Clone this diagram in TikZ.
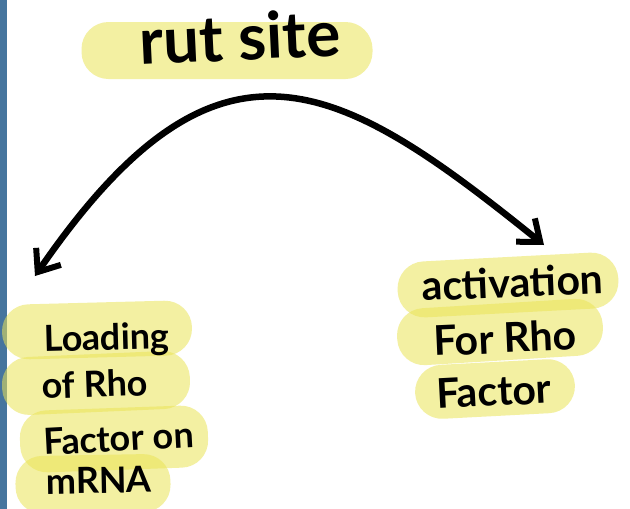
\documentclass[tikz,border=0pt]{standalone}
\usepackage{fontspec}
\setmainfont{Lato}
\usetikzlibrary{arrows.meta}
\definecolor{barblue}{RGB}{70,117,158}
\definecolor{marker}{RGB}{234,228,86}
\tikzset{
  hl/.style={fill=marker, fill opacity=0.55, draw=none, rounded corners=27pt,
    inner sep=0pt},
  handL/.style={anchor=base west, inner sep=0pt, font=\bfseries\fontsize{36}{40}\selectfont},
  handR/.style={anchor=base west, inner sep=0pt, font=\bfseries\fontsize{41}{45}\selectfont},
  title/.style={anchor=base west, inner sep=0pt, font=\bfseries\fontsize{64}{68}\selectfont},
  link/.style={line width=6.5pt, line cap=round,
    {Straight Barb[length=19pt,width=30pt,line width=6pt]}-{Straight Barb[length=19pt,width=30pt,line width=6pt]}}
}
\begin{document}
\begin{tikzpicture}[x=1pt,y=1pt]
  \useasboundingbox (0,0) rectangle (630,-509);
  \fill[white] (0,0) rectangle (630,-509);
  % margin bar
  \fill[barblue] (0,0) rectangle (7,-509);

  % marker strokes
  \node[hl, minimum width=291pt, minimum height=57pt] (hlrut) at (227,-50.5) {};
  \node[hl, minimum width=190pt, minimum height=55pt, rotate=1.5] (hlA) at (97,-330) {};
  \node[hl, minimum width=188pt, minimum height=58pt, rotate=2.5] (hlB) at (96,-383) {};
  \node[hl, minimum width=188pt, minimum height=62pt, rotate=2] (hlC) at (114,-439) {};
  \node[hl, minimum width=155pt, minimum height=58pt, rotate=1] (hlD) at (93,-484) {};
  \node[hl, minimum width=221pt, minimum height=56pt, rotate=3] (hlE) at (508,-285) {};
  \node[hl, minimum width=206pt, minimum height=57pt, rotate=3.5] (hlF) at (500,-332) {};
  \node[hl, minimum width=160pt, minimum height=54pt, rotate=3] (hlG) at (495,-389) {};

  % handwriting
  \node[title, rotate=2.7] (rut) at (140,-65) {rut site};
  \node[handL, rotate=1.5] (l1) at (44,-352) {Loading};
  \node[handL, rotate=2] (l2) at (42,-399) {of Rho};
  \node[handL, rotate=3] (l3) at (44,-455) {Factor on};
  \node[handL, rotate=1] (l4) at (46,-494) {mRNA};
  \node[handR, rotate=2.5] (r1) at (422,-301) {activation};
  \node[handR, rotate=2.5] (r2) at (434,-356) {For Rho};
  \node[handR, rotate=3] (r3) at (437,-409) {Factor};

  % arrow ends
  \coordinate (tipL) at (35,-276);
  \coordinate (tipR) at (544,-245);
  \draw[link] (tipL) .. controls (218,-10) and (337,-78) .. (tipR);
\end{tikzpicture}
\end{document}
